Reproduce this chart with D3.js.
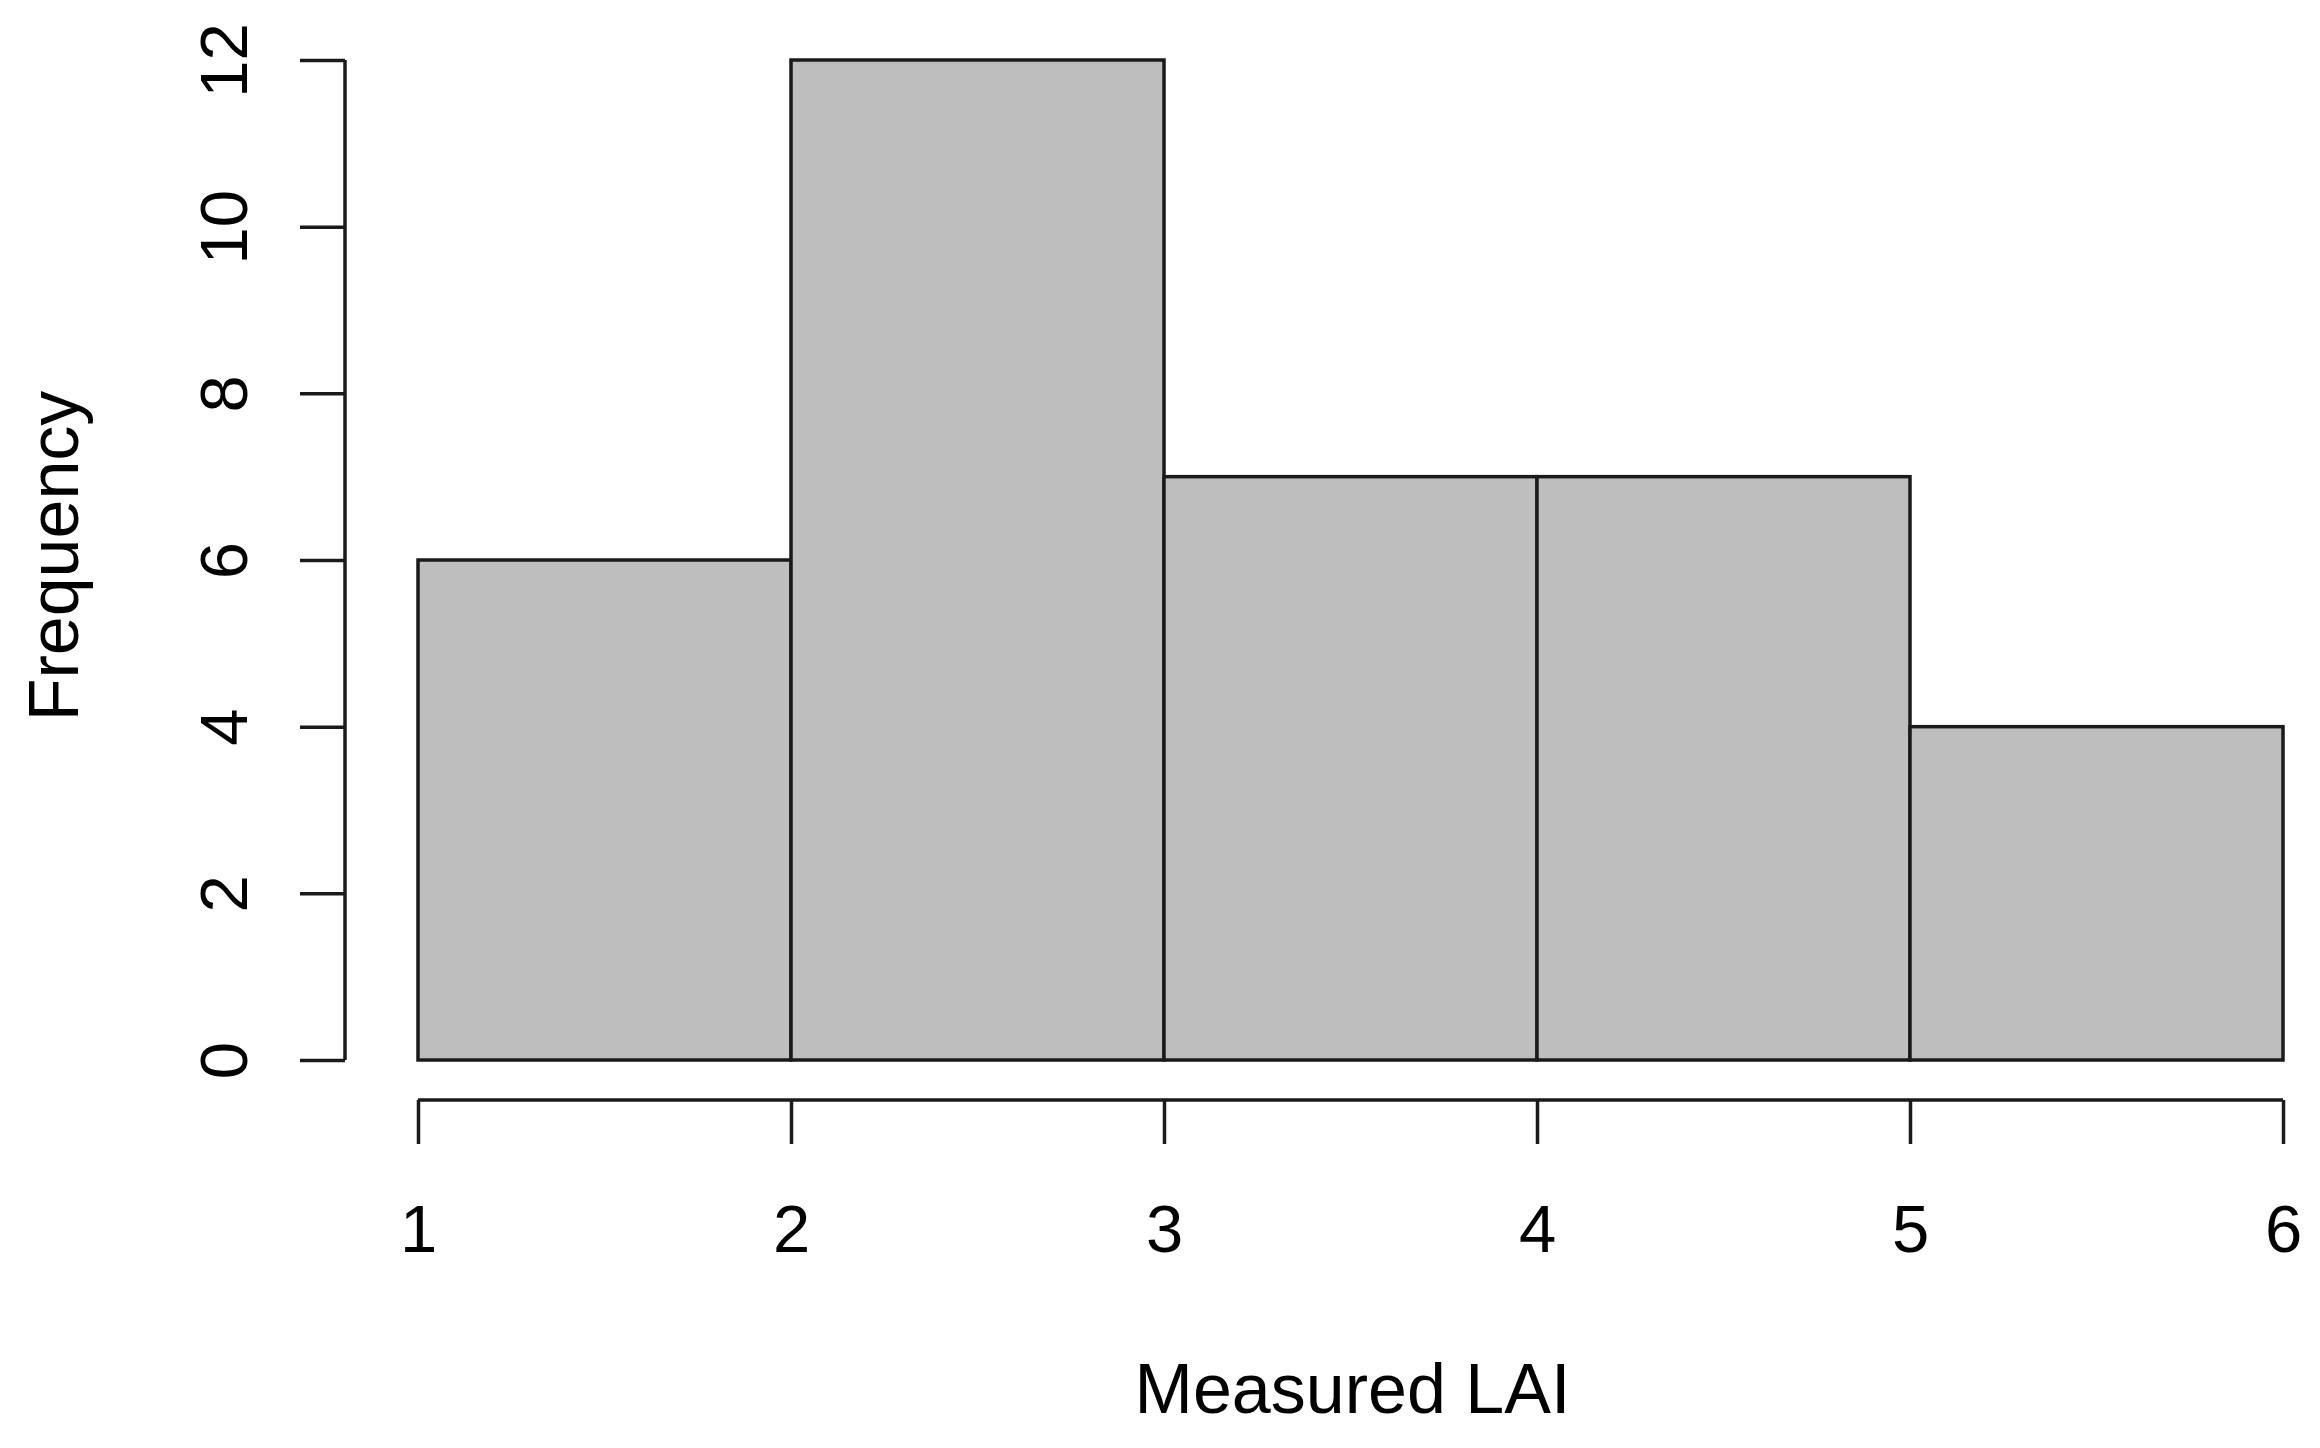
<!DOCTYPE html>
<html><head><meta charset="utf-8">
<script src="https://cdn.jsdelivr.net/npm/d3@7"></script>
<style>
html,body{margin:0;padding:0;background:#fff;}
svg{display:block;font-family:"Liberation Sans",Arial,Helvetica,sans-serif;}
</style></head>
<body>
<svg id="chart" width="2320" height="1448"></svg>
<script>
const binStarts = [1, 2, 3, 4, 5];
const binEnds = [2, 3, 4, 5, 6];
const counts = [6, 12, 7, 7, 4];
const xTicks = [1, 2, 3, 4, 5, 6];
const yTicks = [0, 2, 4, 6, 8, 10, 12];
const xTitle = "Measured LAI";
const yTitle = "Frequency";

const svg = d3.select("#chart");
const x = d3.scaleLinear().domain([1, 6]).range([418, 2283]);
const y = d3.scaleLinear().domain([0, 12]).range([1060, 60]);
const lineCol = "#1a1a1a";

// bars
svg.append("g").selectAll("rect").data(counts).join("rect")
  .attr("x", (d, i) => x(binStarts[i]))
  .attr("width", (d, i) => x(binEnds[i]) - x(binStarts[i]))
  .attr("y", d => y(d))
  .attr("height", d => y(0) - y(d))
  .attr("fill", "#bebebe")
  .attr("stroke", lineCol)
  .attr("stroke-width", 3.5);

// y axis
const yAxisX = 345;
const gy = svg.append("g").attr("transform", `translate(${yAxisX},0)`)
  .call(d3.axisLeft(y).tickValues(yTicks).tickSize(45).tickSizeOuter(0).tickPadding(0).tickFormat(d3.format("d")));
gy.select(".domain").attr("d", `M0,${y(0)}V${y(12)}`).attr("stroke", lineCol).attr("stroke-width", 3.5);
gy.selectAll(".tick line").attr("stroke", lineCol).attr("stroke-width", 3.5);
gy.selectAll(".tick text")
  .attr("x", null).attr("dy", null)
  .attr("transform", "translate(-98,0) rotate(-90)")
  .attr("text-anchor", "middle")
  .attr("font-size", 67).attr("fill", "#000");

// x axis
const xAxisY = 1100;
const gx = svg.append("g").attr("transform", `translate(0,${xAxisY})`)
  .call(d3.axisBottom(x).tickValues(xTicks).tickSize(44).tickSizeOuter(0).tickPadding(0).tickFormat(d3.format("d")));
gx.select(".domain").attr("d", `M${x(1)},0H${x(6)}`).attr("stroke", lineCol).attr("stroke-width", 3.5);
gx.selectAll(".tick line").attr("stroke", lineCol).attr("stroke-width", 3.5);
gx.selectAll(".tick text")
  .attr("y", 152).attr("dy", null)
  .attr("font-size", 67).attr("fill", "#000");

// titles
svg.append("text").attr("x", (x(1) + x(6)) / 2 + 2).attr("y", 1413)
  .attr("text-anchor", "middle").attr("font-size", 70).attr("fill", "#000").text(xTitle);
svg.append("text").attr("transform", `translate(78,${(y(0) + y(12)) / 2 - 4}) rotate(-90)`)
  .attr("text-anchor", "middle").attr("font-size", 70).attr("fill", "#000").text(yTitle);
</script>
</body></html>
